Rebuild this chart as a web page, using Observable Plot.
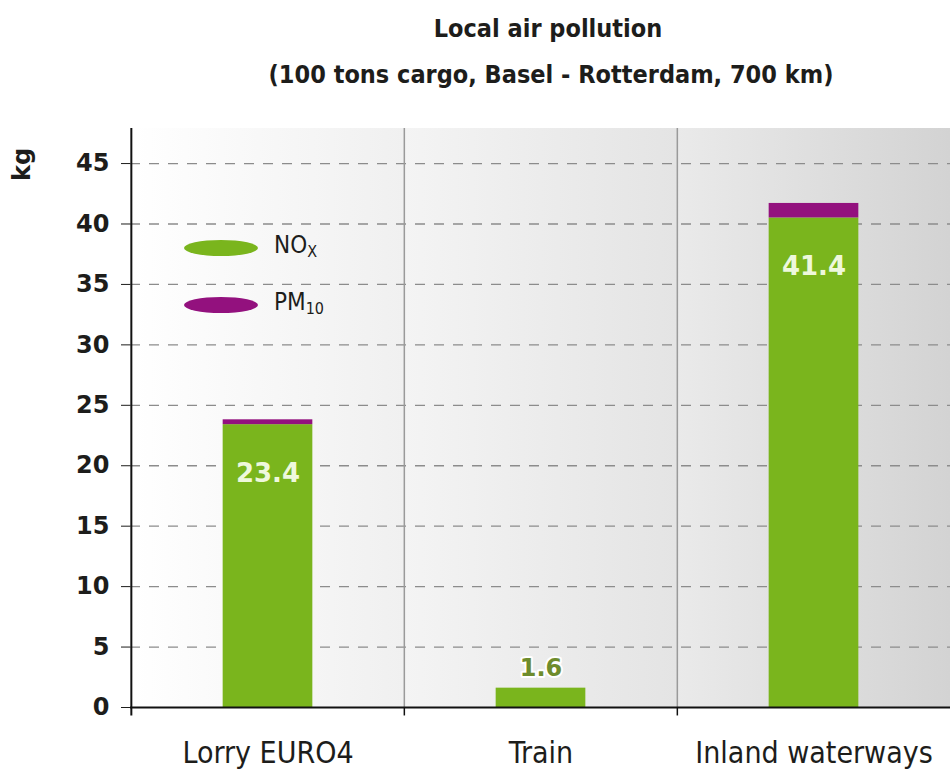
<!DOCTYPE html>
<html>
<head>
<meta charset="utf-8">
<script src="https://cdn.jsdelivr.net/npm/d3@7"></script>
<script src="https://cdn.jsdelivr.net/npm/@observablehq/plot@0.6"></script>
<style>
  html, body { margin: 0; padding: 0; background: #fff; }
  #wrap { position: relative; width: 950px; height: 769px; overflow: hidden; font-family: "DejaVu Sans Condensed", sans-serif; }
  #title { height: 110px; text-align: center; color: #1d1d1b; font-family: "DejaVu Sans Condensed", sans-serif; font-weight: bold; }
  #title .t1 { position: absolute; left: 0; width: 1096px; top: 14px; font-size: 25px; text-align: center; }
  #title .t2 { position: absolute; left: 0; width: 1102px; top: 60px; font-size: 25px; text-align: center; }
  #legend { position: absolute; left: 180px; top: 232px; font-family: "DejaVu Sans Condensed", sans-serif; color: #1d1d1b; }
  #legend .row { position: absolute; left: 0; height: 30px; width: 200px; }
  #legend svg { position: absolute; left: 0; top: 0; }
  #legend span.lab { position: absolute; left: 94px; top: -2px; font-size: 24px; line-height: 30px; white-space: nowrap; }
  #legend sub { font-size: 16px; vertical-align: -4px; }
</style>
</head>
<body>
<div id="wrap">
  <div id="title"><div class="t1">Local air pollution</div><div class="t2">(100 tons cargo, Basel - Rotterdam, 700 km)</div></div>
  <div id="chart"></div>
  <div id="legend"></div>
</div>
<script>
const categories = ["Lorry EURO4", "Train", "Inland waterways"];
const noxValues = [23.4, 1.6, 40.5];
const pm10Values = [0.4, 0, 1.2];
const valueLabels = ["23.4", "1.6", "41.4"];
const yTicks = [0, 5, 10, 15, 20, 25, 30, 35, 40, 45];
const seriesNames = ["NOx", "PM10"];
const seriesColors = ["#7ab51d", "#93117e"];
const yMax = 47.9;

const data = categories.map((c, i) => ({cat: c, nox: noxValues[i], pm10: pm10Values[i], total: noxValues[i] + pm10Values[i], label: valueLabels[i]}));

const W = 950, H = 659, mL = 130, mR = 0;
const step = (W - mL - mR) / categories.length;
const barW = 90;
const inset = (step - barW) / 2;

const panelStops = [["#ffffff", "#f0f0f0"], ["#f4f4f4", "#e4e4e4"], ["#eaeaea", "#d3d3d3"]];

function defs() {
  const d = d3.create("svg:defs");
  panelStops.forEach((s, i) => {
    const g = d.append("linearGradient").attr("id", "panel" + i).attr("x1", "0").attr("x2", "1").attr("y1", "0").attr("y2", "0");
    g.append("stop").attr("offset", "0").attr("stop-color", s[0]);
    g.append("stop").attr("offset", "1").attr("stop-color", s[1]);
  });
  return d.node();
}

const chart = Plot.plot({
  width: W,
  height: H,
  marginLeft: mL,
  marginRight: mR,
  marginTop: 18,
  marginBottom: 62,
  style: {fontFamily: "'DejaVu Sans Condensed', sans-serif", background: "transparent", overflow: "visible"},
  x: {domain: categories, padding: 0, axis: null, label: null},
  y: {domain: [0, yMax], axis: null, label: null},
  marks: [
    defs,
    ...categories.map((c, i) => Plot.barY([c], {x: d => d, y1: 0, y2: yMax, fill: `url(#panel${i})`})),
    Plot.gridY(yTicks.filter(t => t > 0), {stroke: "#8c8c8c", strokeOpacity: 1, strokeWidth: 1.3, strokeDasharray: "10,9"}),
    Plot.ruleX(categories.slice(1), {x: d => d, dx: -step / 2, y1: 0, y2: yMax, stroke: "#9a9a9a", strokeWidth: 1.5}),
    Plot.ruleX(categories.slice(1), {x: d => d, dx: -step / 2, y1: -0.7, y2: 0, stroke: "#111", strokeWidth: 1.5}),
    Plot.barY(data, {x: "cat", y1: 0, y2: "nox", fill: seriesColors[0], insetLeft: inset, insetRight: inset}),
    Plot.barY(data.filter(d => d.pm10 > 0), {x: "cat", y1: "nox", y2: "total", fill: seriesColors[1], insetLeft: inset, insetRight: inset}),
    Plot.ruleY([0], {stroke: "#111", strokeWidth: 2}),
    Plot.ruleX([categories[0]], {x: d => d, dx: -step / 2, y1: -0.7, y2: yMax, stroke: "#111", strokeWidth: 2}),
    Plot.axisY(yTicks, {anchor: "left", label: null, tickSize: 9, tickPadding: 12, fontSize: 24, fontWeight: "bold", color: "#1d1d1b", fontFamily: "'DejaVu Sans', sans-serif"}),
    Plot.text(["kg"], {frameAnchor: "top-left", dx: -108, dy: 36, textAnchor: "middle", lineAnchor: "middle", rotate: -90, fontSize: 24, fontWeight: "bold", fill: "#1d1d1b", fontFamily: "'DejaVu Sans', sans-serif"}),
    Plot.axisX(categories, {anchor: "bottom", label: null, tickSize: 0, tickPadding: 34, fontSize: 30, color: "#1d1d1b", fontFamily: "'DejaVu Sans Condensed', sans-serif"}),
    Plot.text(data.filter(d => d.nox > 5), {x: "cat", y: "nox", text: "label", dy: 49, fill: "#eef8dc", fontSize: 26, fontWeight: "bold", fontFamily: "'DejaVu Sans', sans-serif"}),
    Plot.text(data.filter(d => d.nox <= 5), {x: "cat", y: "nox", text: "label", dy: -20, fill: "#6e8c2c", stroke: "#ffffff", strokeWidth: 4, paintOrder: "stroke", fontSize: 24, fontWeight: "bold", fontFamily: "'DejaVu Sans', sans-serif"})
  ]
});
document.getElementById("chart").appendChild(chart);

// legend
const legend = document.getElementById("legend");
const legendLabels = ["NO<sub>X</sub>", "PM<sub>10</sub>"];
seriesNames.forEach((name, i) => {
  const row = document.createElement("div");
  row.className = "row";
  row.style.top = (i * 57) + "px";
  row.innerHTML = `<svg width="90" height="30"><ellipse cx="41" cy="16" rx="37" ry="8" fill="${seriesColors[i]}"/></svg><span class="lab">${legendLabels[i]}</span>`;
  legend.appendChild(row);
});
</script>
</body>
</html>
